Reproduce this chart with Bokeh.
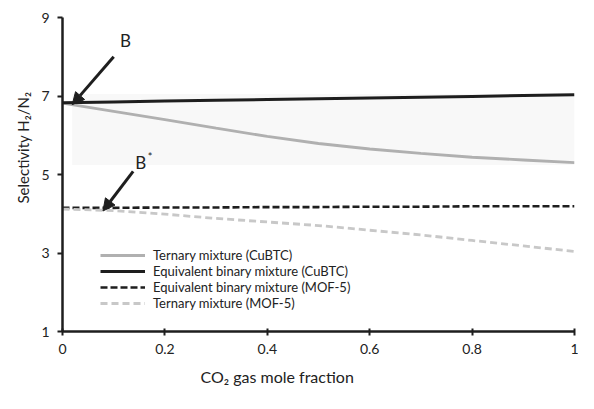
from bokeh.plotting import figure
from bokeh.models import FixedTicker, Legend, LegendItem, Arrow, NormalHead, Label, Range1d, Title
from bokeh.embed import file_html
from bokeh.resources import INLINE

# ---- data ----
co2_fraction = [0.0, 0.1, 0.2, 0.3, 0.4, 0.5, 0.6, 0.7, 0.8, 0.9, 1.0]
ternary_cubtc = [6.82, 6.61, 6.40, 6.18, 5.97, 5.79, 5.65, 5.54, 5.44, 5.37, 5.30]
binary_cubtc = [6.83, 6.85, 6.87, 6.89, 6.91, 6.93, 6.95, 6.97, 6.99, 7.01, 7.03]
binary_mof5 = [4.15, 4.15, 4.16, 4.16, 4.17, 4.17, 4.18, 4.18, 4.19, 4.19, 4.19]
ternary_mof5 = [4.12, 4.08, 3.99, 3.88, 3.79, 3.70, 3.58, 3.46, 3.32, 3.18, 3.04]

x_ticks = [0, 0.2, 0.4, 0.6, 0.8, 1.0]
x_tick_labels = ["0", "0.2", "0.4", "0.6", "0.8", "1"]
y_ticks = [1, 3, 5, 7, 9]

series_labels = ["Ternary mixture (CuBTC)", "Equivalent binary mixture (CuBTC)",
                 "Equivalent binary mixture (MOF-5)", "Ternary mixture (MOF-5)"]
x_title = "CO\u2082 gas mole fraction"
y_title = "Selectivity H\u2082/N\u2082"

# faint shaded band seen behind the CuBTC curves
band_x = [0.019, 1.0]
band_y = [5.24, 7.05]

# annotation arrows: tail points; heads point at the curve starts
arrow_tail_x = [0.100, 0.138]
arrow_tail_y = [8.00, 5.08]
arrow_head_x = [0.019, 0.079]
arrow_head_y = [6.78, 4.07]
label_texts = ["B", "B"]
label_x = [0.123, 0.153]
label_y = [8.42, 5.31]

FONT = "Lato"
TXT = "#222222"

p = figure(width=578, height=393, output_backend="svg", toolbar_location=None,
           x_range=Range1d(0, 1), y_range=Range1d(1, 9),
           min_border_left=62, min_border_right=4, min_border_top=17, min_border_bottom=60,
           background_fill_color="white", border_fill_color="white")
p.outline_line_color = None
p.grid.visible = False

p.quad(left=band_x[0], right=band_x[1], bottom=band_y[0], top=band_y[1],
       fill_color="#f8f8f8", line_color=None)

r1 = p.line(co2_fraction, ternary_cubtc, line_color="#b0b0b0", line_width=2.8)
r2 = p.line(co2_fraction, binary_cubtc, line_color="#1e1e1e", line_width=3)
r3 = p.line(co2_fraction, binary_mof5, line_color="#1e1e1e", line_width=2.6, line_dash="7 3")
r4 = p.line(co2_fraction, ternary_mof5, line_color="#c8c8c8", line_width=2.8, line_dash="7 4")

legend = Legend(items=[LegendItem(label=series_labels[0], renderers=[r1]),
                       LegendItem(label=series_labels[1], renderers=[r2]),
                       LegendItem(label=series_labels[2], renderers=[r3]),
                       LegendItem(label=series_labels[3], renderers=[r4])],
                location=(38, 20), padding=0, margin=0, spacing=0,
                glyph_width=45, glyph_height=16, label_height=16,
                label_standoff=8, label_text_font=FONT, label_text_font_size="13px",
                label_text_color=TXT, background_fill_alpha=0,
                border_line_color=None)
p.add_layout(legend, "center")

for i in range(2):
    p.add_layout(Arrow(x_start=arrow_tail_x[i], y_start=arrow_tail_y[i],
                       x_end=arrow_head_x[i], y_end=arrow_head_y[i],
                       line_width=3, line_color="#1e1e1e",
                       end=NormalHead(size=12, fill_color="#1e1e1e", line_color="#1e1e1e")))
    p.add_layout(Label(x=label_x[i], y=label_y[i], text=label_texts[i],
                       text_font=FONT, text_font_size="17px", text_color=TXT,
                       text_align="center", text_baseline="middle"))
p.add_layout(Label(x=label_x[1], y=label_y[1], x_offset=7, y_offset=6, text="*",
                   text_font=FONT, text_font_size="11px", text_color=TXT,
                   text_align="left", text_baseline="middle"))

xa = p.xaxis[0]
xa.ticker = FixedTicker(ticks=x_ticks)
xa.major_label_overrides = {t: l for t, l in zip(x_ticks, x_tick_labels)}
ya = p.yaxis[0]
ya.ticker = FixedTicker(ticks=y_ticks)

for ax in (xa, ya):
    ax.axis_line_color = "#1e1e1e"
    ax.axis_line_width = 2.5
    ax.major_tick_line_color = "#1e1e1e"
    ax.major_tick_line_width = 2
    ax.minor_tick_line_color = None
    ax.major_label_text_font = FONT
    ax.major_label_text_font_size = "14px"
    ax.major_label_text_color = TXT

xa.major_tick_in = 3
xa.major_tick_out = 4
xa.major_label_standoff = 8
ya.major_tick_in = 0
ya.major_tick_out = 5
ya.major_label_standoff = 8

# axis titles as side-panel titles, placed off-centre as in the reference
p.add_layout(Title(text=x_title, align="left", offset=138, standoff=16,
                   text_font=FONT, text_font_size="16px", text_font_style="normal",
                   text_color=TXT), "below")
p.add_layout(Title(text=y_title, align="left", offset=128, standoff=14,
                   text_font=FONT, text_font_size="15px", text_font_style="normal",
                   text_color=TXT), "left")

open("out.html", "w").write(file_html(p, INLINE))
